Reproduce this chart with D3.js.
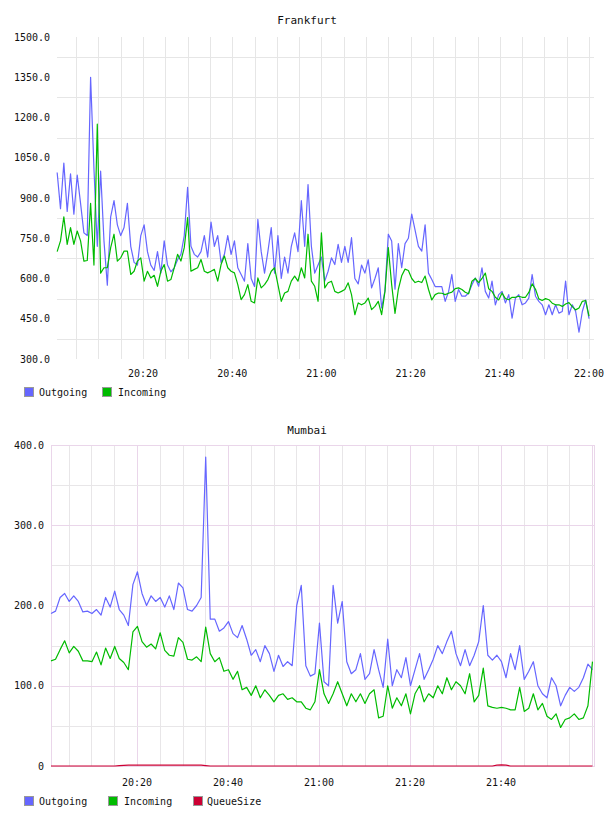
<!DOCTYPE html>
<html>
<head>
<meta charset="utf-8">
<script src="https://cdnjs.cloudflare.com/ajax/libs/d3/7.8.5/d3.min.js"></script>
<style>
  body { margin: 0; background: #fff; }
  svg text { font-family: "DejaVu Sans Mono", monospace; font-size: 10px; fill: #111; }
</style>
</head>
<body>
<div id="chart"></div>
<script>
// ---- data ----
// Frankfurt: one sample every 45 s starting 20:00:45
const fraStart = new Date(2012, 0, 1, 20, 0, 45);
const fraStep = 45;
const fraOutgoing = [
  995, 860, 1030, 850, 990, 840, 985, 880, 770, 760,
  1350, 1010, 720, 1000, 740, 575, 830, 890, 800, 760,
  790, 880, 720, 660, 650, 760, 800, 700, 650, 630,
  700, 620, 740, 650, 625, 640, 670, 690, 760, 940,
  720, 690, 680, 700, 760, 680, 810, 720, 760, 660,
  690, 760, 690, 740, 640, 615, 590, 730, 600, 570,
  820, 700, 620, 700, 790, 620, 760, 600, 680, 620,
  720, 770, 700, 890, 720, 950, 720, 620, 650, 680,
  590, 627, 677, 652, 727, 660, 720, 660, 752, 600,
  580, 650, 620, 670, 565, 600, 640, 490, 555, 765,
  740, 560, 730, 640, 730, 750, 840, 780, 720, 702,
  800, 620, 596, 570, 570, 570, 515, 550, 615, 515,
  559, 534, 534, 546, 577, 602, 571, 640, 552, 527,
  590, 502, 540, 552, 509, 540, 452, 527, 540, 502,
  509, 527, 615, 534, 515, 502, 465, 502, 465, 502,
  471, 477, 590, 465, 502, 477, 400, 477, 520, 450
];
const fraIncoming = [
  700, 740, 830, 727, 790, 727, 777, 740, 665, 667,
  880, 650, 1175, 620, 640, 640, 715, 765, 665, 677,
  702, 702, 615, 627, 665, 677, 590, 627, 602, 612,
  571, 627, 652, 590, 596, 640, 690, 665, 715, 827,
  627, 634, 640, 671, 627, 621, 627, 634, 590, 652,
  684, 640, 627, 621, 577, 521, 540, 577, 515, 509,
  602, 565, 577, 596, 627, 640, 577, 515, 546, 552,
  590, 609, 590, 640, 602, 765, 590, 571, 515, 770,
  565, 584, 590, 552, 546, 552, 559, 584, 540, 465,
  509, 502, 509, 527, 484, 496, 515, 465, 552, 715,
  577, 470, 560, 610, 635, 630, 600, 585, 590, 585,
  609, 560, 520, 540, 546, 545, 540, 545, 549, 562,
  565, 559, 549, 543, 590, 600, 585, 600, 620, 562,
  552, 530, 520, 546, 525, 521, 530, 530, 534, 530,
  530, 548, 580, 560, 524, 518, 525, 521, 508, 502,
  502, 496, 505, 510, 495, 483, 490, 515, 518, 460
];

// Mumbai: one sample per minute starting 20:01:06
const mumStart = new Date(2012, 0, 1, 20, 1, 6);
const mumStep = 60;
const mumOutgoing = [
  190, 193, 210, 215, 205, 212, 205, 192, 193, 190,
  195, 188, 210, 198, 218, 195, 188, 175, 226, 242,
  215, 200, 212, 205, 210, 198, 212, 195, 228, 222,
  195, 193, 200, 210, 385, 183, 183, 168, 172, 180,
  165, 160, 175, 158, 138, 145, 130, 150, 140, 118,
  138, 124, 130, 125, 200, 225, 125, 112, 115, 178,
  105, 100, 225, 178, 205, 130, 115, 120, 140, 108,
  115, 145, 120, 98, 158, 100, 120, 110, 135, 100,
  120, 140, 108, 120, 133, 150, 140, 155, 168, 140,
  125, 145, 125, 138, 155, 200, 138, 132, 138, 130,
  110, 140, 120, 150, 108, 118, 130, 100, 90, 85,
  110, 100, 75, 88, 98, 93, 98, 110, 127, 120
];
const mumIncoming = [
  131, 133, 145, 156, 141, 149, 143, 131, 131, 130,
  142, 126, 147, 134, 149, 134, 129, 120, 167, 174,
  155, 148, 152, 146, 166, 144, 138, 137, 160, 154,
  133, 132, 136, 130, 173, 140, 130, 135, 118, 120,
  108, 118, 95, 98, 88, 100, 85, 95, 88, 80,
  88, 90, 83, 85, 80, 80, 72, 70, 80, 120,
  90, 78, 90, 105, 90, 75, 90, 80, 90, 78,
  90, 95, 60, 62, 100, 72, 85, 75, 90, 65,
  90, 100, 80, 90, 85, 100, 90, 110, 95, 105,
  100, 90, 115, 80, 88, 122, 75, 73, 72, 73,
  72, 70, 70, 98, 68, 72, 90, 70, 78, 62,
  58, 65, 48, 58, 60, 65, 58, 60, 75, 130
];
const mumQueue = [
  0, 0, 0, 0, 0, 0, 0, 0, 0, 0,
  0, 0, 0, 0, 0, 0.5, 0.8, 1, 1, 1,
  1, 1, 1, 1, 1, 1, 1, 1, 1, 1,
  1, 1, 1, 1, 0.5, 0, 0, 0, 0, 0,
  0, 0, 0, 0, 0, 0, 0, 0, 0, 0,
  0, 0, 0, 0, 0, 0, 0, 0, 0, 0,
  0, 0, 0, 0, 0, 0, 0, 0, 0, 0,
  0, 0, 0, 0, 0, 0, 0, 0, 0, 0,
  0, 0, 0, 0, 0, 0, 0, 0, 0, 0,
  0, 0, 0, 0, 0, 0, 0, 0, 1, 1.5,
  1, 0, 0, 0, 0, 0, 0, 0, 0, 0,
  0, 0, 0, 0, 0, 0, 0, 0, 0, 0
];

const fraYTicks = [300, 450, 600, 750, 900, 1050, 1200, 1350, 1500];
const mumYTicks = [0, 100, 200, 300, 400];

const blue = "#6666ff", green = "#00bb00", red = "#cc0033";

const width = 608, height = 816;
const svg = d3.select("#chart").append("svg")
    .attr("width", width)
    .attr("height", height);

const fmt = d3.timeFormat("%H:%M");
const t = (h, m, s) => new Date(2012, 0, 1, h, m, s || 0);

// turn a value array into time points
function toPoints(start, step, values) {
  return values.map((v, i) => ({ t: new Date(start.getTime() + i * step * 1000), v: v }));
}

// ---------- Frankfurt ----------
{
  const x = d3.scaleTime().domain([t(20, 0, 43), t(22, 1, 7)]).range([57, 594]);
  const y = d3.scaleLinear().domain([300, 1500]).range([359, 37]);
  const g = svg.append("g");

  // grid: vertical every 5 min, horizontal between labels
  g.selectAll(".vg").data(d3.timeMinute.every(5).range(t(20, 5), t(22, 0, 1)))
    .enter().append("line")
    .attr("x1", d => Math.round(x(d)) + 0.5).attr("x2", d => Math.round(x(d)) + 0.5)
    .attr("y1", 37).attr("y2", 359)
    .attr("stroke", "#e6e6e6");
  g.selectAll(".hg").data(d3.range(375, 1500, 150))
    .enter().append("line")
    .attr("x1", 57).attr("x2", 594)
    .attr("y1", d => Math.round(y(d)) + 0.5).attr("y2", d => Math.round(y(d)) + 0.5)
    .attr("stroke", "#e6e6e6");

  g.selectAll(".yl").data(fraYTicks).enter().append("text")
    .attr("x", 50).attr("y", d => y(d)).attr("dy", "0.35em")
    .attr("text-anchor", "end")
    .text(d => d.toFixed(1));

  g.selectAll(".xl").data(d3.timeMinute.every(20).range(t(20, 20), t(22, 0, 1)))
    .enter().append("text")
    .attr("x", d => x(d)).attr("y", 373).attr("dy", "0.35em")
    .attr("text-anchor", "middle")
    .text(fmt);

  const line = d3.line().x(d => x(d.t)).y(d => y(d.v));
  [[fraOutgoing, blue], [fraIncoming, green]].forEach(([vals, c]) => {
    g.append("path").datum(toPoints(fraStart, fraStep, vals))
      .attr("d", line).attr("fill", "none")
      .attr("stroke", c).attr("stroke-width", 1.2)
      .attr("stroke-linejoin", "round");
  });

  g.append("text").attr("x", 307).attr("y", 20).attr("dy", "0.35em")
    .attr("text-anchor", "middle").style("font-size", "11px").text("Frankfurt");

  const leg = [["Outgoing", blue, 24, 39], ["Incoming", green, 102, 118]];
  leg.forEach(([name, c, rx, tx]) => {
    g.append("rect").attr("x", rx + 0.5).attr("y", 387.5).attr("width", 9).attr("height", 9)
      .attr("fill", c).attr("stroke", "#999");
    g.append("text").attr("x", tx).attr("y", 392).attr("dy", "0.35em").text(name);
  });
}

// ---------- Mumbai ----------
{
  const x = d3.scaleTime().domain([t(20, 1, 6), t(22, 0, 26)]).range([51, 594]);
  const y = d3.scaleLinear().domain([0, 400]).range([766, 445]);
  const g = svg.append("g");

  const minor = "#e8e6e8", major = "#ead6ea";
  g.selectAll(".vg").data(d3.timeMinute.every(5).range(t(20, 5), t(22, 0, 1)))
    .enter().append("line")
    .attr("x1", d => Math.round(x(d)) + 0.5).attr("x2", d => Math.round(x(d)) + 0.5)
    .attr("y1", 445).attr("y2", 766)
    .attr("stroke", d => d.getMinutes() % 20 === 0 ? major : minor);
  g.selectAll(".hg").data(d3.range(50, 400, 50))
    .enter().append("line")
    .attr("x1", 51).attr("x2", 594)
    .attr("y1", d => Math.round(y(d)) + 0.5).attr("y2", d => Math.round(y(d)) + 0.5)
    .attr("stroke", d => d % 100 === 0 ? major : minor);
  g.append("rect").attr("x", 51.5).attr("y", 445.5).attr("width", 543).attr("height", 321)
    .attr("fill", "none").attr("stroke", major);

  g.selectAll(".yl").data(mumYTicks).enter().append("text")
    .attr("x", 44).attr("y", d => y(d)).attr("dy", "0.35em")
    .attr("text-anchor", "end")
    .text(d => d === 0 ? "0" : d.toFixed(1));

  g.selectAll(".xl").data(d3.timeMinute.every(20).range(t(20, 20), t(21, 41)))
    .enter().append("text")
    .attr("x", d => x(d)).attr("y", 782).attr("dy", "0.35em")
    .attr("text-anchor", "middle")
    .text(fmt);

  const line = d3.line().x(d => x(d.t)).y(d => y(d.v));
  [[mumOutgoing, blue], [mumIncoming, green], [mumQueue, red]].forEach(([vals, c]) => {
    g.append("path").datum(toPoints(mumStart, mumStep, vals))
      .attr("d", line).attr("fill", "none")
      .attr("stroke", c).attr("stroke-width", 1.2)
      .attr("stroke-linejoin", "round");
  });

  g.append("text").attr("x", 307).attr("y", 430).attr("dy", "0.35em")
    .attr("text-anchor", "middle").style("font-size", "11px").text("Mumbai");

  const leg = [["Outgoing", blue, 24, 39], ["Incoming", green, 108, 124], ["QueueSize", red, 193, 207]];
  leg.forEach(([name, c, rx, tx]) => {
    g.append("rect").attr("x", rx + 0.5).attr("y", 796.5).attr("width", 9).attr("height", 9)
      .attr("fill", c).attr("stroke", "#999");
    g.append("text").attr("x", tx).attr("y", 801).attr("dy", "0.35em").text(name);
  });
}
</script>
</body>
</html>
